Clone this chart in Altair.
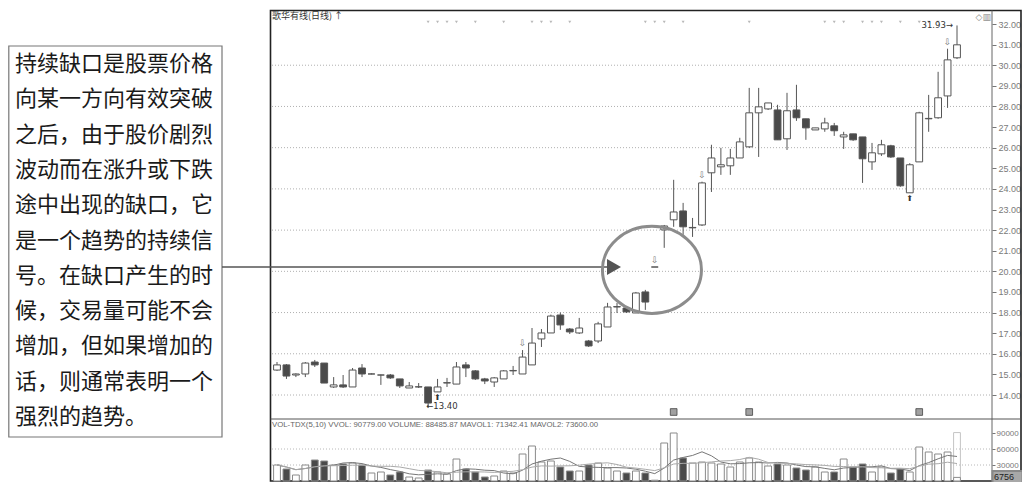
import altair as alt
import pandas as pd

# ---------------- data ----------------
opens = [15.21, 15.46, 14.97, 15.02, 15.60, 15.55, 14.39, 14.49, 14.39, 15.31,
         15.02, 14.97, 14.97, 14.78, 14.34, 14.39, 14.39, 14.15, 14.58, 14.53,
         15.46, 15.17, 14.78, 14.63, 14.78, 15.17, 15.02, 15.46, 16.72, 17.01,
         17.88, 17.20, 17.01, 16.62, 16.62, 17.30, 18.27, 18.22, 17.98, 19.00,
         20.21, 22.01, 22.50, 22.93, 22.11, 22.25, 24.78, 25.07, 25.12, 25.50,
         26.04, 27.69, 27.88, 27.83, 26.43, 27.83, 27.40, 26.86, 26.91, 27.06,
         26.52, 26.67, 26.52, 25.31, 25.70, 26.09, 25.50, 23.81, 25.31, 27.40,
         27.45, 28.51, 30.36]
highs = [15.60, 15.50, 15.05, 15.60, 15.70, 15.55, 14.87, 14.97, 15.31, 15.50,
         15.05, 14.99, 15.02, 14.78, 14.63, 14.58, 14.39, 14.78, 14.83, 15.60,
         15.60, 15.21, 14.83, 14.87, 15.21, 15.41, 16.18, 17.25, 17.20, 17.90,
         18.00, 17.25, 17.74, 16.67, 17.55, 18.47, 18.47, 18.27, 19.00, 19.10,
         20.21, 22.25, 24.44, 23.32, 22.59, 24.35, 26.14, 25.99, 25.94, 26.48,
         28.90, 28.90, 28.17, 28.08, 28.66, 29.05, 27.40, 26.96, 27.45, 27.20,
         26.77, 26.67, 26.52, 26.23, 26.38, 26.14, 25.50, 25.25, 27.74, 28.56,
         29.68, 30.80, 31.93]
lows = [15.17, 14.78, 14.87, 14.87, 15.36, 14.58, 14.34, 14.34, 14.39, 14.87,
        15.00, 14.49, 14.78, 14.34, 14.34, 14.34, 13.40, 14.15, 14.39, 14.53,
        14.87, 14.73, 14.53, 14.39, 14.78, 14.97, 15.02, 15.46, 16.33, 17.01,
        17.16, 16.96, 16.96, 16.33, 16.52, 17.30, 17.98, 17.98, 17.98, 18.13,
        20.21, 21.14, 22.16, 21.77, 21.67, 22.20, 23.85, 24.68, 24.68, 25.50,
        25.99, 25.55, 27.83, 26.38, 25.89, 27.30, 26.38, 26.86, 26.77, 26.57,
        25.94, 26.33, 24.29, 24.92, 25.60, 25.50, 24.10, 23.81, 25.31, 26.77,
        27.40, 27.93, 30.30]
closes = [15.46, 14.92, 15.02, 15.55, 15.46, 14.58, 14.49, 14.39, 15.21, 15.02,
          15.02, 14.97, 14.83, 14.44, 14.44, 14.40, 13.61, 14.39, 14.60, 15.36,
          15.31, 14.78, 14.68, 14.83, 15.17, 15.19, 15.84, 16.52, 17.01, 17.83,
          17.40, 17.06, 17.25, 16.38, 17.45, 18.27, 18.29, 18.03, 18.95, 18.51,
          20.21, 22.20, 22.88, 22.16, 22.13, 24.29, 25.50, 25.17, 25.50, 26.28,
          27.69, 27.98, 28.17, 26.38, 27.79, 27.45, 26.96, 26.96, 27.20, 26.82,
          26.62, 26.38, 25.46, 25.75, 26.14, 25.55, 24.15, 25.17, 27.69, 27.42,
          28.42, 30.26, 30.99]
volumes = [30000, 22500, 11250, 30000, 39375, 37500, 30000, 31875, 33750, 30000,
           15000, 16875, 11250, 16875, 7500, 5625, 20625, 16875, 13125, 41250,
           22500, 16875, 7500, 9375, 18750, 15000, 50625, 65625, 35625, 37500,
           26250, 18750, 18750, 30000, 33750, 24375, 18750, 15000, 18750, 15000,
           1500, 71250, 90000, 43125, 33750, 35625, 33750, 31875, 26250, 35625,
           43125, 35625, 28125, 31875, 30000, 24375, 20625, 26250, 16875, 16875,
           41250, 26250, 31875, 16875, 26250, 15000, 22500, 16875, 63750, 54375,
           50625, 54375, 6756]
vvol_last = 90779
price_ticks = list(range(14, 33))
price_grid = list(range(14, 31, 2))
vol_ticks = [30000, 60000, 90000]
vol_grid = [30000, 60000]
info_idx = [16, 17, 18, 19, 21, 24, 27, 28, 29, 31, 39, 40, 41, 43, 50,
            58, 59, 60, 62, 63, 64, 66, 68, 69, 70]
mark_above_idx = [26, 40, 45, 71]
mark_below_idx = [17, 67]
date_mark_idx = [42, 50, 68]
low_idx, low_val = 16, 13.40
high_idx, high_val = 72, 31.93
gap_idx, gap_price = 40, 20.21
circle_center = (39.7, 20.07)
title_text = "歌华有线(日线) ↑"
vol_caption = "VOL-TDX(5,10)  VVOL: 90779.00    VOLUME: 88485.87  MAVOL1: 71342.41  MAVOL2: 73600.00"
note_lines = ["持续缺口是股票价格", "向某一方向有效突破", "之后，由于股价剧烈",
              "波动而在涨升或下跌", "途中出现的缺口，它", "是一个趋势的持续信",
              "号。在缺口产生的时", "候，交易量可能不会", "增加，但如果增加的",
              "话，则通常表明一个", "强烈的趋势。"]

# ---------------- tables ----------------
n = len(opens)
df = pd.DataFrame({"i": list(range(n)), "open": opens, "high": highs,
                   "low": lows, "close": closes, "vol": volumes})
df["dir"] = ["up" if c >= o else "down" for o, c in zip(opens, closes)]
df["blo"] = df[["open", "close"]].min(axis=1)
df["bhi"] = df[["open", "close"]].max(axis=1)
df["xl"] = df["i"] - 0.36
df["xr"] = df["i"] + 0.36

X = alt.Scale(domain=[0, n - 1], range=[269, 949], nice=False, zero=False)
PY = alt.Scale(domain=[14, 32], range=[387, 16], nice=False, zero=False)
VY = alt.Scale(domain=[0, 90000], range=[473, 425], nice=False, zero=False)
FILL = alt.Scale(domain=["up", "down"], range=["#ffffff", "#4a4a4a"])

one = pd.DataFrame({"k": [0]})
base = alt.Chart(df)

def xq(field):
    return alt.X(field, type="quantitative", scale=X, axis=None)

# frame
frame = alt.Chart(one).mark_rect(fill=None, stroke="#222", strokeWidth=1.6).encode(
    x=alt.value(262.5), x2=alt.value(1013), y=alt.value(2.5), y2=alt.value(473))
vline = alt.Chart(one).mark_rule(color="#666", strokeWidth=1).encode(
    x=alt.value(984), y=alt.value(2.5), y2=alt.value(473))
hline = alt.Chart(one).mark_rule(color="#555", strokeWidth=1).encode(
    x=alt.value(262.5), x2=alt.value(1013), y=alt.value(411))

axis_style = dict(orient="right", grid=False, domain=False, ticks=True,
                  tickColor="#777", labelColor="#7a7a7a",
                  labelFont="Liberation Sans", title=None)

pgrid = alt.Chart(pd.DataFrame({"p": price_grid})).mark_rule(
    color="#b0b0b0", strokeDash=[1, 2], strokeWidth=1).encode(
    x=alt.value(264), x2=alt.value(984),
    y=alt.Y("p:Q", scale=PY,
            axis=alt.Axis(values=price_ticks, format=".2f", tickSize=4,
                          labelFontSize=9, labelPadding=2, **axis_style)))

vgrid = alt.Chart(pd.DataFrame({"v": vol_grid})).mark_rule(
    color="#b8b8b8", strokeDash=[1, 2], strokeWidth=1).encode(
    x=alt.value(264), x2=alt.value(984),
    y=alt.Y("v:Q", scale=VY,
            axis=alt.Axis(values=vol_ticks, format="d", tickSize=3,
                          labelFontSize=8, labelPadding=1, **axis_style)))

wicks = base.mark_rule(color="#555", strokeWidth=1).encode(
    x=xq("i"), y=alt.Y("low:Q", scale=PY, axis=None), y2="high:Q")

bodies = base.mark_rect(stroke="#555", strokeWidth=1).encode(
    x=xq("xl"), x2="xr:Q",
    y=alt.Y("blo:Q", scale=PY, axis=None), y2="bhi:Q",
    fill=alt.Fill("dir:N", scale=FILL, legend=None))

vvol_bar = alt.Chart(pd.DataFrame({"xl": [n - 1 - 0.36], "xr": [n - 1 + 0.36],
                                   "v": [vvol_last]})).mark_rect(
    fill=None, stroke="#c4c4c4", strokeWidth=1).encode(
    x=xq("xl"), x2="xr:Q", y=alt.Y("v:Q", scale=VY, axis=None), y2=alt.datum(0))

vbars = base.mark_rect(stroke="#8a8a8a", strokeWidth=1).encode(
    x=xq("xl"), x2="xr:Q",
    y=alt.Y("vol:Q", scale=VY, axis=None), y2=alt.datum(0),
    fill=alt.Fill("dir:N", scale=FILL, legend=None))

ma5 = base.transform_window(ma="mean(vol)", frame=[-4, 0],
                            sort=[alt.SortField("i")]).mark_line(
    color="#777", strokeWidth=1).encode(
    x=xq("i"), y=alt.Y("ma:Q", scale=VY, axis=None))
ma10 = base.transform_window(ma="mean(vol)", frame=[-9, 0],
                             sort=[alt.SortField("i")]).mark_line(
    color="#aaa", strokeWidth=1).encode(
    x=xq("i"), y=alt.Y("ma:Q", scale=VY, axis=None))

info = alt.Chart(pd.DataFrame({"i": info_idx})).mark_point(
    shape="triangle-down", filled=True, color="#9a9a9a", size=9).encode(
    x=xq("i"), y=alt.value(14))

above = df[df["i"].isin(mark_above_idx)]
mk_above = alt.Chart(above).mark_text(
    text="⇩", font="DejaVu Sans", fontSize=9, color="#777", dy=-7).encode(
    x=xq("i"), y=alt.Y("high:Q", scale=PY, axis=None))
below = df[df["i"].isin(mark_below_idx)]
mk_below = alt.Chart(below).mark_text(
    text="⬆", font="DejaVu Sans", fontSize=8, color="#333", dy=6).encode(
    x=xq("i"), y=alt.Y("low:Q", scale=PY, axis=None))

low_lbl = alt.Chart(pd.DataFrame({"i": [low_idx], "p": [low_val]})).mark_text(
    align="left", baseline="middle", font="DejaVu Sans", fontSize=8.5,
    color="#333", dx=-2, dy=-1).transform_calculate(
    lbl="'←' + format(datum.p, '.2f')").encode(
    x=xq("i"), y=alt.Y("p:Q", scale=PY, axis=None), text="lbl:N")
high_lbl = alt.Chart(pd.DataFrame({"i": [high_idx], "p": [high_val]})).mark_text(
    align="right", baseline="middle", font="DejaVu Sans", fontSize=8.5,
    color="#333", dx=-4, dy=0).transform_calculate(
    lbl="format(datum.p, '.2f') + '→'").encode(
    x=xq("i"), y=alt.Y("p:Q", scale=PY, axis=None), text="lbl:N")

dmarks = alt.Chart(pd.DataFrame({"i": date_mark_idx})).mark_square(
    size=45, fill="#a0a0a0", stroke="#444", strokeWidth=0.8, opacity=1).encode(
    x=xq("i"), y=alt.value(404))

title = alt.Chart(one).mark_text(
    text=title_text, align="left", baseline="middle",
    font="Noto Sans CJK SC", fontSize=9, color="#333").encode(
    x=alt.value(264), y=alt.value(8))
icons = alt.Chart(one).mark_text(
    text="◇▥", align="right", baseline="middle",
    font="DejaVu Sans", fontSize=9, color="#888").encode(
    x=alt.value(983), y=alt.value(9))
vcap = alt.Chart(one).mark_text(
    text=vol_caption, align="left", baseline="middle",
    font="Liberation Sans", fontSize=7.8, color="#666").encode(
    x=alt.value(264), y=alt.value(417))

cur = pd.DataFrame({"v": [volumes[-1]]})
cur_box = alt.Chart(cur).mark_point(
    shape="M -1 -0.42 L 1 -0.42 L 1 0.42 L -1 0.42 Z", size=900,
    filled=True, fill="#a8a8a8", stroke="#888", opacity=1).encode(
    x=alt.value(999.5), y=alt.Y("v:Q", scale=VY, axis=None))
cur_txt = alt.Chart(cur).mark_text(
    align="left", baseline="middle", font="Liberation Sans", fontSize=9,
    color="#222").encode(
    x=alt.value(986), y=alt.Y("v:Q", scale=VY, axis=None), text=alt.Text("v:Q", format="d"))

# annotation box
box = alt.Chart(one).mark_rect(fill="white", stroke="#777", strokeWidth=1.2).encode(
    x=alt.value(0.8), x2=alt.value(214), y=alt.value(38), y2=alt.value(429))
note = alt.Chart(one).mark_text(
    text=note_lines, align="left", baseline="top", lineHeight=35.3,
    font="Noto Sans CJK SC", fontSize=22, color="#1a1a1a").encode(
    x=alt.value(7), y=alt.value(46))

gap = pd.DataFrame({"p": [gap_price]})
conn = alt.Chart(gap).mark_rule(color="#555", strokeWidth=1.6).encode(
    x=alt.value(214), x2=alt.value(600), y=alt.Y("p:Q", scale=PY, axis=None))
head = alt.Chart(gap).mark_point(
    shape="triangle-right", filled=True, color="#555", size=260, opacity=1).encode(
    x=alt.value(606), y=alt.Y("p:Q", scale=PY, axis=None))

circ = pd.DataFrame({"i": [circle_center[0]], "p": [circle_center[1]]})
ellipse = alt.Chart(circ).mark_point(
    shape="M -1 0 A 1 0.88 0 1 0 1 0 A 1 0.88 0 1 0 -1 0",
    size=9800, filled=False, stroke="#8c8c8c", strokeWidth=3, opacity=1).encode(
    x=xq("i"), y=alt.Y("p:Q", scale=PY, axis=None))

chart = alt.layer(
    frame, pgrid, vgrid, vline, hline,
    wicks, bodies, vvol_bar, vbars, ma5, ma10,
    info, mk_above, mk_below, low_lbl, high_lbl, dmarks,
    title, icons, vcap, cur_box, cur_txt,
    box, note, conn, head, ellipse,
).resolve_scale(y="independent").properties(
    width=984, height=474,
    autosize=alt.AutoSizeParams(type="none"),
    padding={"left": 0, "top": 0, "right": 30, "bottom": 0},
    background="white",
).configure_view(stroke=None)

chart.save("out.html", embed_options={"renderer": "svg", "actions": False})
